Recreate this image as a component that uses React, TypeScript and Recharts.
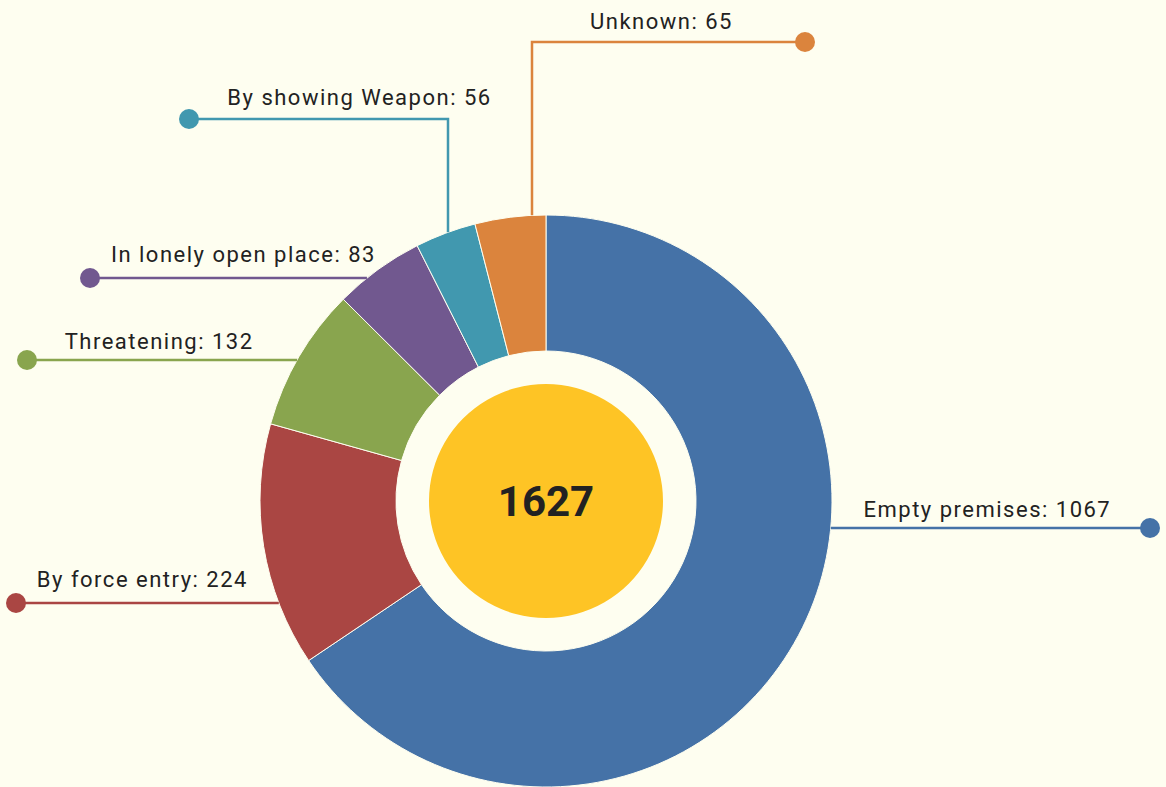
import { Cell, Pie, PieChart } from "recharts";

const categories = [
  "Empty premises",
  "By force entry",
  "Threatening",
  "In lonely open place",
  "By showing Weapon",
  "Unknown",
];
const counts = [1067, 224, 132, 83, 56, 65];
const colors = ["#4572a7", "#aa4643", "#89a54e", "#71588f", "#4198af", "#db843d"];

// Callout guides, in px relative to the pie centre.
// "h": horizontal line at y = at; "v": vertical line at x = at up to elbow, then across.
const guides = [
  { kind: "h", at: 27, elbow: 0, end: 604, dx: -3, dy: -11 },
  { kind: "h", at: 102, elbow: 0, end: -530, dx: -5, dy: -16 },
  { kind: "h", at: -141, elbow: 0, end: -519, dx: -3, dy: -11 },
  { kind: "h", at: -223, elbow: 0, end: -456, dx: 15, dy: -16 },
  { kind: "v", at: -98, elbow: -382, end: -357, dx: 41, dy: -14 },
  { kind: "v", at: -14, elbow: -459, end: 259, dx: -7, dy: -13 },
];

const data = categories.map((name, i) => ({ name, value: counts[i] }));
const total = counts.reduce((a, b) => a + b, 0);

const BG = "#fefef0";
const FONT = "Roboto, 'Noto Sans', sans-serif";

function renderCallout(props: any) {
  const { cx, cy, outerRadius, index, name, value } = props;
  const g = guides[index];
  const color = colors[index];
  let d: string;
  let dotX: number;
  let dotY: number;
  let tx: number;
  let ty: number;
  if (g.kind === "h") {
    const y = cy + g.at;
    const half = Math.sqrt(outerRadius * outerRadius - g.at * g.at);
    const x0 = g.end > 0 ? cx + half : cx - half;
    dotX = cx + g.end;
    dotY = y;
    d = `M${x0},${y}H${dotX}`;
    tx = (x0 + dotX) / 2 + g.dx;
    ty = y + g.dy;
  } else {
    const x = cx + g.at;
    const y0 = cy - Math.sqrt(outerRadius * outerRadius - g.at * g.at);
    dotY = cy + g.elbow;
    dotX = cx + g.end;
    d = `M${x},${y0}V${dotY}H${dotX}`;
    tx = (x + dotX) / 2 + g.dx;
    ty = dotY + g.dy;
  }
  return (
    <g key={`callout-${index}`}>
      <path d={d} fill="none" stroke={color} strokeWidth={2.5} />
      <circle cx={dotX} cy={dotY} r={10} fill={color} />
      <text
        x={tx}
        y={ty}
        textAnchor="middle"
        fill="#222"
        fontSize={22}
        letterSpacing={1.5}
        fontFamily={FONT}
      >
        {`${name}: ${value}`}
      </text>
    </g>
  );
}

function renderTotal(props: any) {
  const { cx, cy } = props;
  return (
    <text
      key="total"
      x={cx}
      y={cy}
      dy={15}
      textAnchor="middle"
      fill="#222"
      fontSize={42}
      fontWeight={700}
      fontFamily={FONT}
    >
      {total}
    </text>
  );
}

export default function App() {
  return (
    <div
      style={{
        position: "absolute",
        left: 0,
        top: 0,
        width: 1166,
        height: 787,
        background: BG,
        overflow: "hidden",
      }}
    >
      <PieChart width={1166} height={787} margin={{ top: 0, right: 0, bottom: 0, left: 0 }}>
        <Pie
          data={data}
          dataKey="value"
          nameKey="name"
          cx={546}
          cy={501}
          innerRadius={150}
          outerRadius={286}
          startAngle={90}
          endAngle={-270}
          stroke={BG}
          strokeWidth={1}
          label={renderCallout}
          labelLine={false}
          isAnimationActive={false}
        >
          {data.map((_, i) => (
            <Cell key={i} fill={colors[i]} />
          ))}
        </Pie>
        <Pie
          data={[{ name: "Total", value: total }]}
          dataKey="value"
          cx={546}
          cy={501}
          innerRadius={0}
          outerRadius={117}
          fill="#fec425"
          stroke="none"
          label={renderTotal}
          labelLine={false}
          isAnimationActive={false}
        />
      </PieChart>
    </div>
  );
}
